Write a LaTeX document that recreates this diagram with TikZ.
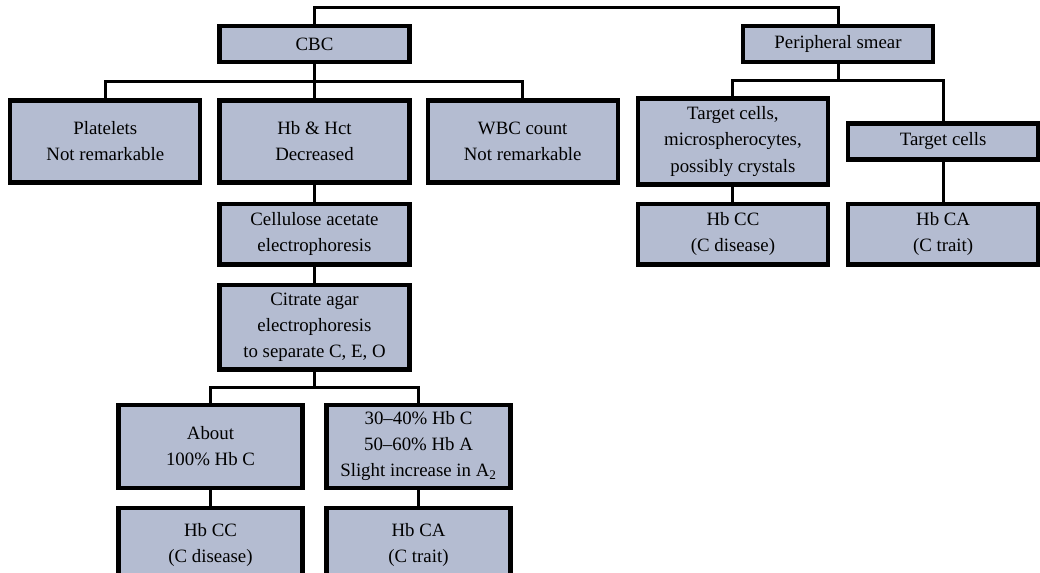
\documentclass[tikz,border=0pt]{standalone}
\usepackage{fontspec}
\setmainfont{Liberation Serif}
\usepackage{xcolor}
\usepackage{tikz}
\usetikzlibrary{positioning,calc}
\definecolor{boxfill}{RGB}{180,188,209}
\tikzset{
  testbox/.style={draw=black,fill=boxfill,line width=3pt,align=center,
    minimum width=4.75cm,minimum height=0.9cm,inner sep=2pt,
    font=\fontsize{13.4}{18.5}\selectfont},
  resultbox/.style={testbox,minimum width=4.6cm},
  linkline/.style={draw=black,line width=2.2pt}
}
\begin{document}
\begin{tikzpicture}[node distance=0.4cm and 0.375cm]
  \useasboundingbox (-7.8625,-10.7875) rectangle (18.1375,3.5375);
  % CBC branch
  \node[testbox,minimum height=2.05cm] (hb) {Hb \& Hct\\Decreased};
  \node[testbox,minimum height=2.05cm,left=of hb] (plt) {Platelets\\Not remarkable};
  \node[testbox,minimum height=2.05cm,right=0.35cm of hb] (wbc) {WBC count\\Not remarkable};
  \node[testbox,above=0.85cm of hb] (cbc) {CBC};
  \node[testbox,minimum height=1.52cm,below=0.425cm of hb] (cel) {Cellulose acetate\\electrophoresis};
  \node[testbox,minimum height=2.12cm,below=of cel] (cit) {Citrate agar\\electrophoresis\\to separate C, E, O};
  \node[resultbox,minimum height=2.08cm,below=0.775cm of cit,xshift=-2.6cm] (abt) {About\\100\% Hb C};
  \node[resultbox,minimum height=2.08cm,below=0.775cm of cit,xshift=2.6cm] (trt) {30--40\% Hb C\\50--60\% Hb A\\Slight increase in A\textsubscript{2}};
  \node[resultbox,minimum height=1.85cm,below=of abt] (cc) {Hb CC\\(C disease)};
  \node[resultbox,minimum height=1.85cm,below=of trt] (ca) {Hb CA\\(C trait)};
  % smear branch
  \node[testbox,minimum height=2.15cm,right=0.4cm of wbc] (tgt) {Target cells,\\microspherocytes,\\possibly crystals};
  \node[testbox,right=0.4cm of tgt] (tgtb) {Target cells};
  \coordinate (pmid) at ($(tgt)!0.5!(tgtb)$);
  \node[testbox] (peri) at (pmid |- cbc) {Peripheral smear};
  \node[testbox,minimum height=1.52cm,below=0.375cm of tgt] (rcc) {Hb CC\\(C disease)};
  \node[testbox,minimum height=1.52cm] (rca) at (tgtb |- rcc) {Hb CA\\(C trait)};
  % connectors
  \draw[linkline] (cbc.north) -- ++(0,0.42) -| (peri.north);
  \coordinate (cbar) at ($(cbc.south)!0.5!(hb.north)$);
  \draw[linkline] (cbc.south) -- (hb.north);
  \draw[linkline] (plt.north) |- (cbar) -| (wbc.north);
  \draw[linkline] (hb) -- (cel);
  \draw[linkline] (cel) -- (cit);
  \coordinate (ebar) at ($(cit.south)!0.5!(cit.south |- abt.north)$);
  \draw[linkline] (cit.south) -- (ebar);
  \draw[linkline] (abt.north) |- (ebar) -| (trt.north);
  \draw[linkline] (abt) -- (cc);
  \draw[linkline] (trt) -- (ca);
  \coordinate (pbar) at ($(peri.south)!0.5!(peri.south |- tgt.north)$);
  \draw[linkline] (peri.south) -- (pbar);
  \draw[linkline] (tgt.north) |- (pbar) -| (tgtb.north);
  \draw[linkline] (tgt) -- (rcc);
  \draw[linkline] (tgtb) -- (rca);
\end{tikzpicture}
\end{document}
